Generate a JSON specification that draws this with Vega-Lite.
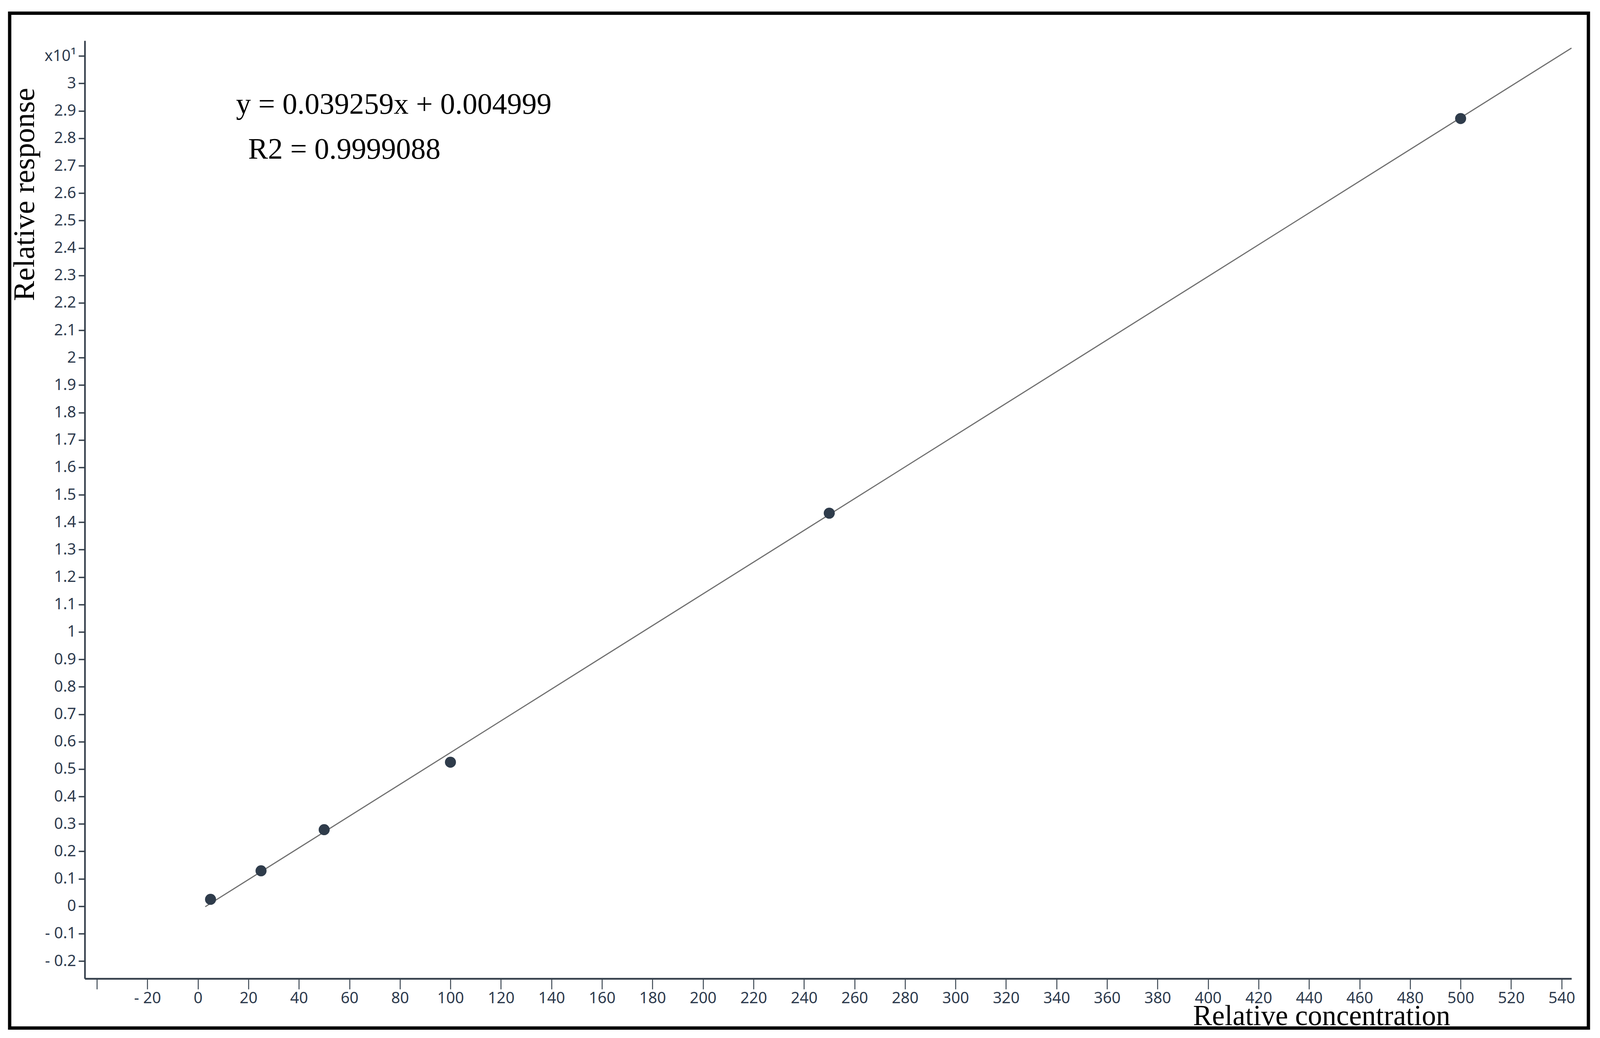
{
  "$schema": "https://vega.github.io/schema/vega-lite/v6.json",
  "width": 3806,
  "height": 2400,
  "autosize": {"type": "none"},
  "padding": {"left": 217, "top": 104, "right": 73, "bottom": 152},
  "background": "white",
  "config": {"view": {"stroke": null}},
  "datasets": {
    "points": [
      {"conc": 5, "resp": 0.025},
      {"conc": 25, "resp": 0.129},
      {"conc": 50, "resp": 0.279},
      {"conc": 100, "resp": 0.525},
      {"conc": 250, "resp": 1.433},
      {"conc": 500, "resp": 2.872}
    ],
    "fit": [
      {"conc": 2.9, "resp": -0.002},
      {"conc": 543.9, "resp": 3.129}
    ]
  },
  "layer": [
    {
      "data": {"name": "fit"},
      "mark": {"type": "line", "color": "#6e6e6e", "strokeWidth": 2.9},
      "encoding": {
        "x": {
          "field": "conc",
          "type": "quantitative",
          "scale": {"domain": [-44.8, 543.9], "nice": false, "zero": false},
          "axis": {
            "values": [-40, -20, 0, 20, 40, 60, 80, 100, 120, 140, 160, 180, 200, 220, 240, 260, 280, 300, 320, 340, 360, 380, 400, 420, 440, 460, 480, 500, 520, 540],
            "labelExpr": "datum.value == -40 ? '' : (datum.value < 0 ? '- ' + format(-datum.value, 'd') : format(datum.value, 'd'))",
            "labelFont": "Noto Sans",
            "labelFontSize": 40,
            "labelColor": "#2e3b4e",
            "labelPadding": 3,
            "labelFlush": false,
            "labelOverlap": false,
            "tickSize": 27,
            "tickWidth": 2.4,
            "tickColor": "#343f4b",
            "domainColor": "#343f4b",
            "domainWidth": 4.5,
            "grid": false,
            "title": "Relative concentration",
            "titleFont": "Liberation Serif",
            "titleFontSize": 73,
            "titleFontWeight": "normal",
            "titleColor": "#000000",
            "titleX": 3166,
            "titleY": 118,
            "titleAlign": "center",
            "titleBaseline": "alphabetic"
          }
        },
        "y": {
          "field": "resp",
          "type": "quantitative",
          "scale": {"domain": [-0.264, 3.156], "nice": false, "zero": false},
          "axis": {
            "values": [-0.2, -0.1, 0, 0.1, 0.2, 0.3, 0.4, 0.5, 0.6, 0.7, 0.8, 0.9, 1, 1.1, 1.2, 1.3, 1.4, 1.5, 1.6, 1.7, 1.8, 1.9, 2, 2.1, 2.2, 2.3, 2.4, 2.5, 2.6, 2.7, 2.8, 2.9, 3, 3.1],
            "labelExpr": "abs(datum.value - 3.1) < 0.000001 ? 'x10¹' : (datum.value < -0.000001 ? '- ' + format(-datum.value, '.1~f') : format(datum.value, '.1~f'))",
            "labelFont": "Noto Sans",
            "labelFontSize": 40,
            "labelColor": "#2e3b4e",
            "labelPadding": 6.5,
            "labelFlush": false,
            "labelOverlap": false,
            "tickSize": 16,
            "tickWidth": 3.5,
            "tickColor": "#343f4b",
            "domainColor": "#343f4b",
            "domainWidth": 4.2,
            "grid": false,
            "title": "Relative response",
            "titleFont": "Liberation Serif",
            "titleFontSize": 77,
            "titleFontWeight": "normal",
            "titleColor": "#000000",
            "titleAngle": 270,
            "titleX": -130.5,
            "titleY": 393,
            "titleAlign": "center",
            "titleBaseline": "alphabetic"
          }
        }
      }
    },
    {
      "data": {"name": "points"},
      "mark": {"type": "circle", "color": "#2f3c4b", "opacity": 1, "size": 800},
      "encoding": {
        "x": {"field": "conc", "type": "quantitative"},
        "y": {"field": "resp", "type": "quantitative"}
      }
    },
    {
      "data": {"values": [{}]},
      "mark": {"type": "text", "font": "Liberation Serif", "fontSize": 76, "align": "left", "baseline": "alphabetic", "color": "#000000", "text": "y = 0.039259x + 0.004999"},
      "encoding": {
        "x": {"datum": 15.1, "type": "quantitative"},
        "y": {"datum": 2.889, "type": "quantitative"}
      }
    },
    {
      "data": {"values": [{}]},
      "mark": {"type": "text", "font": "Liberation Serif", "fontSize": 76, "align": "left", "baseline": "alphabetic", "color": "#000000", "text": "R2 = 0.9999088"},
      "encoding": {
        "x": {"datum": 19.9, "type": "quantitative"},
        "y": {"datum": 2.726, "type": "quantitative"}
      }
    },
    {
      "data": {"values": [{}]},
      "mark": {"type": "rect", "fill": null, "stroke": "#000000", "strokeWidth": 8.5},
      "encoding": {
        "x": {"datum": -74.54, "type": "quantitative"},
        "x2": {"datum": 550.6},
        "y": {"datum": 3.256, "type": "quantitative"},
        "y2": {"datum": -0.4443}
      }
    }
  ]
}
